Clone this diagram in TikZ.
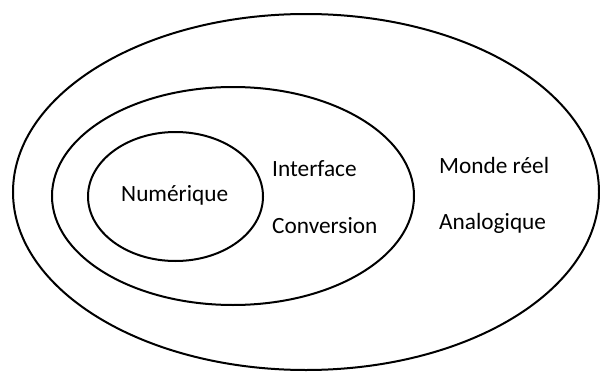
\documentclass[tikz,border=0pt]{standalone}
\usepackage{fontspec}
\setmainfont{Carlito}
\begin{document}
\begin{tikzpicture}[x=1pt,y=-1pt,
  ring/.style={draw=black,line width=2pt},
  lbl/.style={anchor=base west,inner sep=0pt,font=\fontsize{23.3}{27}\selectfont}]
\useasboundingbox (0,0) rectangle (600,372);
\draw[ring] (306,192) ellipse [x radius=293,y radius=178];
\draw[ring] (233,196) ellipse [x radius=181,y radius=109];
\draw[ring] (175.5,196.5) ellipse [x radius=87.5,y radius=64.5];
\node[lbl] (num) at (121,201) {Numérique};
\node[lbl] (inter) at (272,176) {Interface};
\node[lbl] (conv) at (272,233) {Conversion};
\node[lbl] (monde) at (439,173) {Monde réel};
\node[lbl] (analog) at (439,229) {Analogique};
\end{tikzpicture}
\end{document}
